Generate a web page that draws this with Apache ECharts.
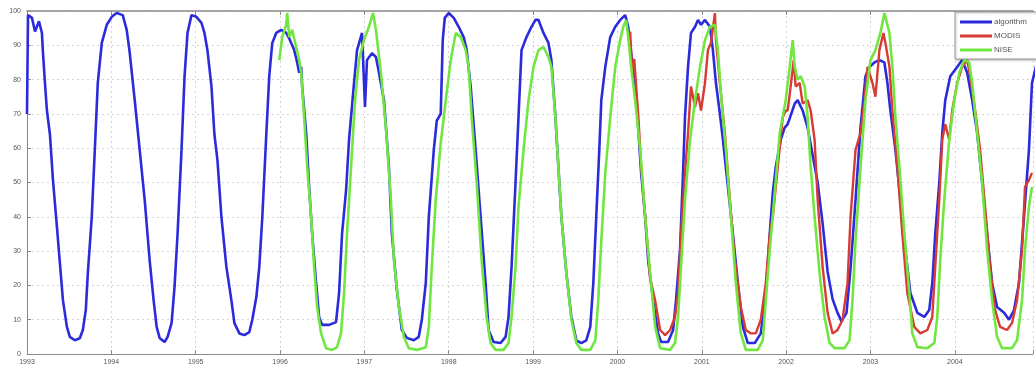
<!DOCTYPE html>
<html>
<head>
<meta charset="utf-8">
<script src="https://cdn.jsdelivr.net/npm/echarts@6/dist/echarts.min.js"></script>
<style>
html,body{margin:0;padding:0;background:#fff;}
#chart{width:1036px;height:371px;}
</style>
</head>
<body>
<div id="chart"></div>
<script>
const yearTicks = [1993,1994,1995,1996,1997,1998,1999,2000,2001,2002,2003,2004];
const valueTicks = [0,10,20,30,40,50,60,70,80,90,100];
const seriesNames = ['algorithm','MODIS','NISE'];

const algorithmData = [
[1993.000,70],[1993.012,98.8],[1993.059,98],[1993.095,94],[1993.142,97],[1993.177,93.6],[1993.189,88],[1993.213,79],[1993.236,71],[1993.272,64],[1993.307,51],[1993.355,37],[1993.390,26.5],[1993.426,15.7],[1993.473,7.9],[1993.508,5],[1993.567,4],[1993.626,4.6],[1993.662,7],[1993.697,12.8],[1993.721,23.5],[1993.768,40],[1993.804,59.5],[1993.839,79],[1993.887,90.7],[1993.946,96],
[1994.005,98.3],[1994.064,99.4],[1994.135,98.8],[1994.182,94.5],[1994.217,88],[1994.277,74],[1994.336,59.5],[1994.395,45],[1994.454,27.4],[1994.501,15.7],[1994.537,7.9],[1994.572,4.7],[1994.631,3.5],[1994.667,5],[1994.714,9],[1994.749,19.5],[1994.785,35],[1994.832,59.5],[1994.868,81],[1994.903,93.6],[1994.950,98.8],
[1995.009,98.3],[1995.069,96.5],[1995.104,93.6],[1995.139,88.6],[1995.187,78],[1995.222,64],[1995.258,56.5],[1995.305,40],[1995.364,25.4],[1995.423,15.7],[1995.459,9],[1995.518,6],[1995.577,5.5],[1995.636,6.4],[1995.671,10],[1995.719,16.6],[1995.754,25.4],[1995.790,40],[1995.837,64],[1995.872,81],[1995.908,90.7],[1995.955,93.6],
[1996.014,94.5],[1996.073,93.6],[1996.109,92],[1996.168,88.6],[1996.203,85],[1996.227,82],[1996.251,83.7],[1996.262,78],[1996.310,64.4],[1996.345,48.7],[1996.381,35],[1996.428,20.7],[1996.463,10.8],[1996.499,8.5],[1996.582,8.5],[1996.664,9.3],[1996.700,17.8],[1996.735,35],[1996.783,47.8],[1996.818,62.4],[1996.877,79],[1996.913,88.6],[1996.972,93.6],
[1997.007,72],[1997.031,85.7],[1997.090,87.7],[1997.137,86.6],[1997.173,82],[1997.232,74],[1997.291,54.5],[1997.326,35],[1997.385,18.7],[1997.444,7],[1997.504,4.7],[1997.586,4],[1997.645,5],[1997.681,10],[1997.728,20.7],[1997.764,40],[1997.823,59.5],[1997.858,68],[1997.905,70],[1997.929,91.5],[1997.953,98],
[1998.000,99.4],[1998.059,98],[1998.118,95.4],[1998.177,92.4],[1998.213,88.6],[1998.260,78],[1998.319,59.5],[1998.378,40],[1998.437,20.7],[1998.473,7],[1998.532,3.5],[1998.615,3.2],[1998.674,5],[1998.709,10.8],[1998.745,25.4],[1998.792,50],[1998.827,69],[1998.863,88.6],[1998.922,92.4],[1998.981,95.4],
[1999.028,97.4],[1999.064,97.4],[1999.123,93.6],[1999.182,90.7],[1999.217,85.7],[1999.265,69],[1999.300,54.5],[1999.336,40],[1999.395,23.5],[1999.454,10.8],[1999.513,4],[1999.572,3.2],[1999.631,4],[1999.678,7.9],[1999.714,20.7],[1999.749,40],[1999.785,59.5],[1999.809,74],[1999.856,83.7],[1999.915,92.4],[1999.974,95.4],
[2000.033,97.4],[2000.092,98.8],[2000.128,95.4],[2000.163,87.7],[2000.210,79],[2000.246,66],[2000.281,52.8],[2000.329,40],[2000.364,27.4],[2000.423,15.7],[2000.482,6],[2000.518,3.5],[2000.600,3.5],[2000.660,7],[2000.695,15.7],[2000.742,30.3],[2000.778,52.8],[2000.801,69],[2000.837,83.7],[2000.872,93.6],[2000.920,95.4],[2000.955,97.4],[2000.991,96],
[2001.038,97.4],[2001.097,95.4],[2001.132,88.6],[2001.168,79],[2001.215,70],[2001.251,62.4],[2001.310,48.7],[2001.369,35],[2001.428,20.7],[2001.487,7.9],[2001.546,3.2],[2001.629,3.2],[2001.700,6],[2001.759,17.8],[2001.806,35],[2001.842,47],[2001.877,54.5],[2001.936,62.4],[2001.983,66],
[2002.019,67],[2002.102,73],[2002.137,74],[2002.196,71],[2002.255,66],[2002.314,58],[2002.374,50],[2002.433,38],[2002.492,24],[2002.551,16],[2002.610,12],[2002.657,9.5],[2002.716,12],[2002.764,25],[2002.823,45],[2002.882,66],[2002.941,81],[2002.988,83.7],
[2003.047,85],[2003.106,85.7],[2003.165,85],[2003.201,79],[2003.236,71],[2003.296,59.5],[2003.355,45],[2003.414,30.3],[2003.473,17.8],[2003.556,12],[2003.638,10.8],[2003.697,12.8],[2003.733,20.7],[2003.768,35],[2003.816,50],[2003.851,64.4],[2003.887,74],[2003.946,81],
[2004.028,83.7],[2004.087,85.7],[2004.147,82],[2004.206,74],[2004.265,64.4],[2004.324,50],[2004.383,35],[2004.442,20.7],[2004.501,13.7],[2004.584,12],[2004.643,10],[2004.702,12.8],[2004.761,20.7],[2004.820,40],[2004.879,59.5],[2004.915,79],[2004.974,85]
];

const modisData = [
[2000.151,94],[2000.175,82],[2000.199,86],[2000.246,70],[2000.281,55],[2000.329,40],[2000.388,22],[2000.447,15.7],[2000.506,7],[2000.565,5.5],[2000.624,7],[2000.683,10.8],[2000.719,17.8],[2000.754,35],[2000.801,52.8],[2000.837,64.4],[2000.872,78],[2000.920,72],[2000.955,76],[2000.991,71],
[2001.038,79],[2001.073,88.6],[2001.109,90.7],[2001.156,99.4],[2001.168,91.5],[2001.215,79],[2001.274,64.4],[2001.333,45],[2001.392,27.4],[2001.463,13.7],[2001.522,7],[2001.582,6],[2001.641,6],[2001.700,10],[2001.759,20.7],[2001.806,35],[2001.842,40],[2001.901,54.5],[2001.960,69],[2001.995,71],
[2002.019,71],[2002.054,78],[2002.090,85.7],[2002.113,78],[2002.161,79],[2002.196,73],[2002.255,74],[2002.291,71],[2002.338,62.4],[2002.374,45],[2002.433,25.4],[2002.492,12],[2002.551,6],[2002.610,7],[2002.669,10],[2002.728,20.7],[2002.764,40],[2002.823,59.5],[2002.882,64.4],[2002.929,74],[2002.965,83.7],
[2003.024,79],[2003.059,75],[2003.106,88.6],[2003.154,93.6],[2003.177,90.7],[2003.225,83.7],[2003.260,71],[2003.319,54.5],[2003.378,35],[2003.437,17.8],[2003.520,7.9],[2003.591,6],[2003.674,7],[2003.733,10.8],[2003.768,25.4],[2003.816,45],[2003.851,62.4],[2003.887,67],[2003.934,62.4],[2003.969,71],
[2004.028,79],[2004.087,83.7],[2004.147,85.7],[2004.182,81],[2004.241,71],[2004.300,59.5],[2004.359,43],[2004.418,25.4],[2004.478,12.8],[2004.537,7.9],[2004.619,7],[2004.678,9],[2004.738,15.7],[2004.797,30.3],[2004.832,48.7],[2004.879,50.7],[2004.915,52.8]
];

const niseData = [
[1995.991,85.7],[1996.026,92.4],[1996.073,96],[1996.085,99.4],[1996.109,92.4],[1996.144,94.5],[1996.191,89.5],[1996.227,85.7],[1996.251,82],[1996.286,69],[1996.322,54.5],[1996.369,40],[1996.404,25.4],[1996.440,13.7],[1996.487,6],[1996.546,1.7],[1996.617,1.2],[1996.676,2],[1996.723,6],[1996.759,17.8],[1996.794,35],[1996.842,54.5],[1996.889,74],[1996.936,85.7],[1996.995,91.5],
[1997.054,95.4],[1997.102,99.4],[1997.137,94.5],[1997.196,82],[1997.255,66],[1997.314,45],[1997.350,27.4],[1997.409,13.7],[1997.468,5],[1997.527,1.7],[1997.622,1.2],[1997.728,2],[1997.764,7.9],[1997.799,25.4],[1997.846,45],[1997.905,61.5],[1997.965,74],
[1998.024,85.7],[1998.083,93.6],[1998.142,92.4],[1998.201,88.6],[1998.236,83.7],[1998.272,69],[1998.331,50],[1998.390,27.4],[1998.449,10.8],[1998.496,3.2],[1998.556,1.2],[1998.650,1.2],[1998.709,3.2],[1998.745,10.8],[1998.792,25.4],[1998.827,43],[1998.887,59.5],[1998.946,74],
[1999.005,83.7],[1999.064,88.6],[1999.123,89.5],[1999.182,86.6],[1999.217,83.7],[1999.265,69],[1999.300,54.5],[1999.336,40],[1999.395,23.5],[1999.454,10],[1999.513,3.2],[1999.572,1.2],[1999.678,1.2],[1999.738,4],[1999.773,15.7],[1999.809,33],[1999.856,52.8],[1999.915,69],[1999.974,83.7],
[2000.033,91.5],[2000.069,95.4],[2000.104,97.4],[2000.128,92.4],[2000.163,83.7],[2000.210,74],[2000.270,59.5],[2000.329,40],[2000.388,23.5],[2000.447,7.9],[2000.506,1.7],[2000.624,1.2],[2000.683,3.2],[2000.719,10.8],[2000.754,25.4],[2000.801,45],[2000.861,62.4],[2000.920,74],[2000.979,83.7],
[2001.038,91.5],[2001.097,95.4],[2001.156,96],[2001.191,88.6],[2001.227,76],[2001.286,59.5],[2001.345,40],[2001.404,20.7],[2001.463,6],[2001.522,1.2],[2001.664,1.2],[2001.723,4],[2001.759,15.7],[2001.806,30.3],[2001.865,47],[2001.924,64.4],[2001.995,74],
[2002.043,83.7],[2002.078,91.5],[2002.102,83.7],[2002.137,80],[2002.173,81],[2002.220,78],[2002.255,69],[2002.291,54.5],[2002.338,40],[2002.397,23.5],[2002.456,10.8],[2002.515,3.2],[2002.574,1.7],[2002.693,1.7],[2002.752,4],[2002.787,15.7],[2002.823,33],[2002.882,54.5],[2002.941,74],
[2003.000,85.7],[2003.059,88.6],[2003.118,93.6],[2003.165,99.4],[2003.225,93.6],[2003.260,83.7],[2003.296,69],[2003.343,54.5],[2003.402,35],[2003.461,17.8],[2003.496,6],[2003.556,2],[2003.674,1.7],[2003.757,3.2],[2003.792,10.8],[2003.827,27.4],[2003.875,45],[2003.934,62.4],[2003.993,74],
[2004.053,82],[2004.112,85.7],[2004.170,85],[2004.206,79],[2004.265,64.4],[2004.324,50],[2004.383,30.3],[2004.442,15.7],[2004.501,5],[2004.560,1.7],[2004.678,1.7],[2004.738,4],[2004.797,15.7],[2004.832,30.3],[2004.879,43],[2004.915,48.7]
];

const colors = ['#2b2bdc','#d83a34','#72e640'];
const labelColor = '#555';
const fontFamily = 'Liberation Sans, Arial, sans-serif';

const chart = echarts.init(document.getElementById('chart'), null, {renderer:'canvas'});
const xMin = yearTicks[0];
const xMax = 2004.927;

chart.setOption({
  animation: false,
  backgroundColor: '#fff',
  grid: {left: 27, right: 0, top: 11, bottom: 17, containLabel: false},
  legend: {
    data: seriesNames,
    orient: 'vertical',
    left: 955,
    top: 12,
    padding: [3, 16, 2, 5],
    itemGap: 0,
    itemWidth: 32,
    itemHeight: 3,
    icon: 'rect',
    backgroundColor: '#fff',
    borderColor: '#999',
    borderWidth: 1,
    shadowColor: 'rgba(0,0,0,0.25)',
    shadowBlur: 2,
    shadowOffsetX: 1,
    shadowOffsetY: 1,
    textStyle: {fontSize: 8, color: labelColor, lineHeight: 14, fontFamily: fontFamily, padding: [0,0,0,-3]}
  },
  xAxis: [{
    type: 'value', min: xMin, max: xMax, interval: 1,
    axisLine: {show: true, onZero: false, lineStyle: {color: '#8a8a8a', width: 1}},
    axisTick: {show: true, inside: true, length: 4, lineStyle: {color: '#8a8a8a'}},
    axisLabel: {fontSize: 7, color: labelColor, margin: 5, fontFamily: fontFamily,
      formatter: v => yearTicks.includes(Math.round(v)) && Math.abs(v - Math.round(v)) < 1e-6 ? String(Math.round(v)) : ''},
    splitLine: {show: true, lineStyle: {color: '#d4d4d4', type: [2, 3], width: 1}}
  }, {
    type: 'value', min: xMin, max: xMax, interval: 1, position: 'top',
    axisLine: {show: true, onZero: false, lineStyle: {color: '#8a8a8a', width: 1.5}},
    axisTick: {show: true, inside: true, length: 4, lineStyle: {color: '#8a8a8a'}},
    axisLabel: {show: false}, splitLine: {show: false}
  }],
  yAxis: {
    type: 'value', min: valueTicks[0], max: valueTicks[valueTicks.length - 1], interval: 10,
    axisLine: {show: true, lineStyle: {color: '#8a8a8a', width: 1}},
    axisTick: {show: true, inside: true, length: 4, lineStyle: {color: '#8a8a8a'}},
    axisLabel: {fontSize: 7, color: labelColor, margin: 6, fontFamily: fontFamily},
    splitLine: {show: true, lineStyle: {color: '#d4d4d4', type: [2, 3], width: 1}}
  },
  series: [
    {name: seriesNames[0], type: 'line', data: algorithmData, showSymbol: false, symbol: 'none',
     lineStyle: {color: colors[0], width: 2.6}, itemStyle: {color: colors[0]}, z: 2},
    {name: seriesNames[1], type: 'line', data: modisData, showSymbol: false, symbol: 'none',
     lineStyle: {color: colors[1], width: 2.4}, itemStyle: {color: colors[1]}, z: 3},
    {name: seriesNames[2], type: 'line', data: niseData, showSymbol: false, symbol: 'none',
     lineStyle: {color: colors[2], width: 2.6}, itemStyle: {color: colors[2]}, z: 4}
  ]
});
</script>
</body>
</html>
